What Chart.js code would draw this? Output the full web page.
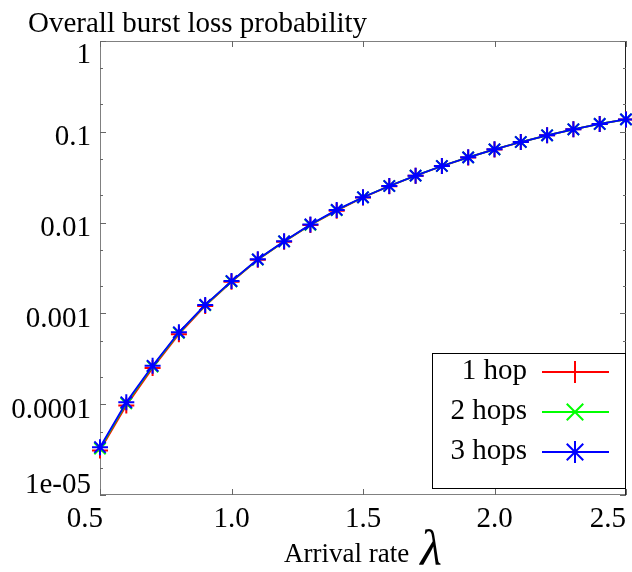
<!DOCTYPE html>
<html>
<head>
<meta charset="utf-8">
<script src="https://cdn.jsdelivr.net/npm/chart.js@4.4.0/dist/chart.umd.min.js"></script>
<style>
  html, body { margin: 0; padding: 0; background: #fff; }
</style>
</head>
<body>
<canvas id="chart" width="632" height="572"></canvas>
<script>
// arrival rate (x) and burst loss probability per hop count (y)
const lambdas = [0.5, 0.6, 0.7, 0.8, 0.9, 1.0, 1.1, 1.2, 1.3, 1.4, 1.5, 1.6, 1.7, 1.8, 1.9, 2.0, 2.1, 2.2, 2.3, 2.4, 2.5]
const hop1 = [3.1e-5, 9.7e-5, 2.5e-4, 5.9e-4, 1.21e-3, 2.23e-3, 3.9e-3, 6.15e-3, 9.4e-3, 0.0135, 0.0189, 0.0252, 0.0328, 0.0419, 0.0522, 0.064, 0.0771, 0.0914, 0.1065, 0.122, 0.137]
const hop2 = [3.25e-5, 1.02e-4, 2.6e-4, 6.1e-4, 1.23e-3, 2.25e-3, 3.92e-3, 6.2e-3, 9.45e-3, 0.0137, 0.019, 0.0253, 0.0329, 0.042, 0.0523, 0.0641, 0.0772, 0.0915, 0.1066, 0.122, 0.137]
const hop3 = [3.36e-5, 1.05e-4, 2.65e-4, 6.19e-4, 1.24e-3, 2.27e-3, 3.94e-3, 6.22e-3, 9.55e-3, 0.0138, 0.019, 0.0253, 0.0329, 0.042, 0.0523, 0.0641, 0.0772, 0.0915, 0.1066, 0.122, 0.137]

const xTicks = [0.5, 1.0, 1.5, 2.0, 2.5]
const xTickLabels = ['0.5', '1.0', '1.5', '2.0', '2.5']
const yTicks = [1, 0.1, 0.01, 0.001, 0.0001, 0.00001]
const yTickLabels = ['1', '0.1', '0.01', '0.001', '0.0001', '1e-05']
const yMinorTicks = [0.5, 0.2, 0.05, 0.02, 0.005, 0.002, 0.0005, 0.0002, 0.00005, 0.00002]

const SERIF = '"Liberation Serif", "DejaVu Serif", serif'
const TICK_FONT = '29px ' + SERIF

// small helper for the legend samples
function marker (ctx, style, x, y, r) {
  ctx.beginPath()
  if (style === 'cross' || style === 'star') {
    ctx.moveTo(x - r, y); ctx.lineTo(x + r, y)
    ctx.moveTo(x, y - r); ctx.lineTo(x, y + r)
  }
  if (style === 'crossRot' || style === 'star') {
    const d = r * 0.75
    ctx.moveTo(x - d, y - d); ctx.lineTo(x + d, y + d)
    ctx.moveTo(x - d, y + d); ctx.lineTo(x + d, y - d)
  }
  ctx.stroke()
}

const gnuplotLook = {
  id: 'gnuplotLook',
  beforeDatasetsDraw (chart) {
    const { ctx, chartArea: a, scales: { x, y } } = chart
    ctx.save()
    ctx.lineWidth = 1
    ctx.strokeStyle = '#808080'
    ctx.beginPath()
    ctx.moveTo(a.right, a.top + 0.5); ctx.lineTo(a.left + 0.5, a.top + 0.5)
    ctx.lineTo(a.left + 0.5, a.bottom - 0.5); ctx.lineTo(a.right, a.bottom - 0.5)
    ctx.stroke()
    ctx.strokeStyle = '#222'
    ctx.beginPath()
    ctx.moveTo(a.right - 0.5, a.top); ctx.lineTo(a.right - 0.5, a.bottom)
    ctx.stroke()

    // inward ticks
    ctx.strokeStyle = '#666'
    ctx.beginPath()
    yTicks.forEach(v => {
      const py = Math.round(y.getPixelForValue(v)) + 0.5
      ctx.moveTo(a.left, py); ctx.lineTo(a.left + 6, py)
      ctx.moveTo(a.right, py); ctx.lineTo(a.right - 6, py)
    })
    yMinorTicks.forEach(v => {
      const py = Math.round(y.getPixelForValue(v)) + 0.5
      ctx.moveTo(a.left, py); ctx.lineTo(a.left + 3, py)
      ctx.moveTo(a.right, py); ctx.lineTo(a.right - 3, py)
    })
    xTicks.forEach(v => {
      const px = Math.round(x.getPixelForValue(v)) + 0.5
      ctx.moveTo(px, a.bottom); ctx.lineTo(px, a.bottom - 6)
      ctx.moveTo(px, a.top); ctx.lineTo(px, a.top + 6)
    })
    ctx.stroke()
    ctx.restore()
  },
  afterDraw (chart) {
    const { ctx, chartArea: a, scales: { x, y } } = chart
    ctx.save()
    ctx.fillStyle = '#000'

    // y axis title, gnuplot style at the top left
    ctx.font = '29px ' + SERIF
    ctx.textAlign = 'left'
    ctx.textBaseline = 'alphabetic'
    ctx.fillText('Overall burst loss probability', 28, a.top - 9)

    // y tick labels, kept inside the frame at both ends
    ctx.font = TICK_FONT
    ctx.textAlign = 'right'
    ctx.textBaseline = 'middle'
    yTicks.forEach((v, i) => {
      let py = y.getPixelForValue(v) + 6
      py = Math.min(Math.max(py, a.top + 14), a.bottom - 10)
      ctx.fillText(yTickLabels[i], a.left - 9, py)
    })

    // x tick labels
    ctx.textBaseline = 'alphabetic'
    xTicks.forEach((v, i) => {
      const px = x.getPixelForValue(v)
      if (i === 0) { ctx.textAlign = 'right'; ctx.fillText(xTickLabels[i], px + 3, a.bottom + 32) }
      else if (i === xTicks.length - 1) { ctx.textAlign = 'right'; ctx.fillText(xTickLabels[i], px, a.bottom + 32) }
      else { ctx.textAlign = 'center'; ctx.fillText(xTickLabels[i], px, a.bottom + 32) }
    })

    // x axis title with italic lambda
    const t1 = 'Arrival rate'
    const t2 = 'λ'
    ctx.font = '27px ' + SERIF
    const w1 = ctx.measureText(t1).width
    ctx.font = 'italic 50px ' + SERIF
    const w2 = ctx.measureText(t2).width
    const gap = 11
    const start = (a.left + a.right) / 2 - (w1 + gap + w2) / 2
    ctx.textAlign = 'left'
    ctx.font = '27px ' + SERIF
    ctx.fillText(t1, start, a.bottom + 67)
    ctx.font = 'italic 50px ' + SERIF
    ctx.fillText(t2, start + w1 + gap, a.bottom + 70)

    // legend box
    const bw = 194, bh = 136
    const bx = a.right - bw, by = a.bottom - 142
    ctx.fillStyle = '#fff'
    ctx.fillRect(bx, by, bw, bh)
    ctx.strokeStyle = '#000'
    ctx.lineWidth = 1
    ctx.strokeRect(bx + 0.5, by + 0.5, bw - 1, bh - 1)
    chart.data.datasets.forEach((ds, i) => {
      const ry = by + 19 + i * 40
      ctx.fillStyle = '#000'
      ctx.font = TICK_FONT
      ctx.textAlign = 'right'
      ctx.fillText(ds.label, bx + 95, ry + 7)
      ctx.strokeStyle = ds.borderColor
      ctx.lineWidth = 2
      ctx.beginPath()
      ctx.moveTo(bx + 110, ry); ctx.lineTo(bx + 177, ry)
      ctx.stroke()
      marker(ctx, ds.pointStyle, bx + 143, ry, 11)
    })
    ctx.restore()
  }
}

function series (label, data, color, style, order) {
  return {
    label: label,
    data: lambdas.map((l, i) => ({ x: l, y: data[i] })),
    order: order,
    borderColor: color,
    backgroundColor: color,
    borderWidth: 1.8,
    pointStyle: style,
    pointRadius: 8,
    pointHoverRadius: 8,
    pointBorderWidth: 2,
    pointBorderColor: color,
    tension: 0,
    fill: false,
    clip: false
  }
}

new Chart(document.getElementById('chart').getContext('2d'), {
  type: 'line',
  data: {
    datasets: [
      series('1 hop', hop1, '#ff0000', 'cross', 3),
      series('2 hops', hop2, '#00ff00', 'crossRot', 2),
      series('3 hops', hop3, '#0000ff', 'star', 1)
    ]
  },
  options: {
    responsive: false,
    animation: false,
    events: [],
    layout: { autoPadding: false, padding: { left: 0, right: 6, top: 41, bottom: 0 } },
    plugins: {
      legend: { display: false },
      tooltip: { enabled: false },
      title: { display: false }
    },
    scales: {
      x: {
        type: 'linear',
        min: 0.5,
        max: 2.5,
        grid: { display: false, drawTicks: false },
        border: { display: false },
        ticks: { display: false },
        afterFit: function (scale) {
          scale.height = 77
          scale.paddingLeft = 0
          scale.paddingRight = 0
        }
      },
      y: {
        type: 'logarithmic',
        min: 0.00001,
        max: 1,
        grid: { display: false, drawTicks: false },
        border: { display: false },
        ticks: { display: false },
        afterFit: function (scale) {
          scale.width = 100
          scale.paddingTop = 0
          scale.paddingBottom = 0
        }
      }
    }
  },
  plugins: [gnuplotLook]
})
</script>
</body>
</html>
